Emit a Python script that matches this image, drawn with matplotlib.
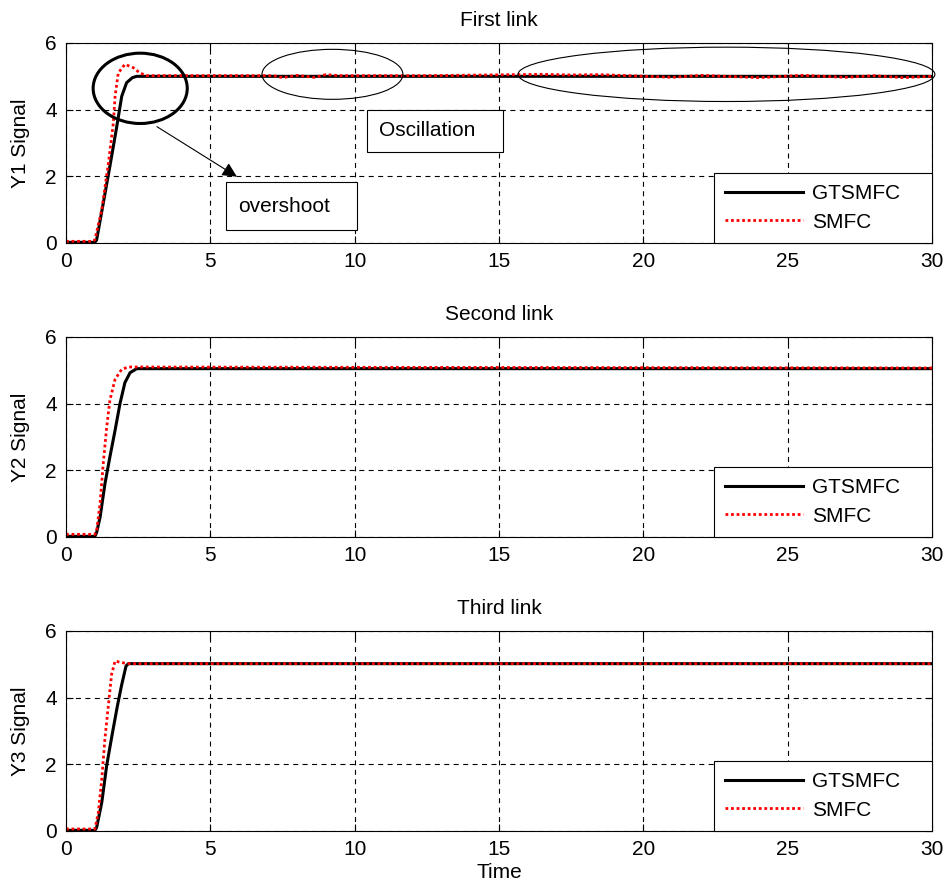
import matplotlib
matplotlib.use('Agg')
import matplotlib.pyplot as plt
from matplotlib.patches import Ellipse, Rectangle

plt.rcParams['font.family'] = ['Liberation Sans', 'DejaVu Sans']
plt.rcParams['font.size'] = 15
FS = 15

# ---- data ----
# First link
t1_gts = [0, 1.0, 1.06, 1.29, 1.52, 1.76, 1.93, 2.1, 2.3, 2.45, 30]
y1_gts = [0.02, 0.02, 0.09, 1.19, 2.3, 3.5, 4.4, 4.81, 4.96, 5.0, 5.0]
t1_smf = [0, 0.95, 1.0, 1.24, 1.47, 1.64, 1.7, 1.81, 2.04, 2.33, 2.56, 2.8,
          7.2, 7.5, 8.0, 8.6, 9.0, 9.5, 12.5, 16.5, 17.5, 18.5, 19.5, 21.0,
          22.0, 24.0, 25.5, 27.0, 28.0, 29.0, 30]
y1_smf = [0.05, 0.05, 0.1, 1.0, 2.4, 3.6, 4.4, 5.1, 5.36, 5.26, 5.1, 5.02,
          5.02, 4.96, 5.03, 4.97, 5.05, 5.02, 5.02, 5.06, 5.04, 5.05, 5.02, 4.97,
          5.03, 4.96, 5.03, 4.97, 5.02, 4.96, 5.0]

# Second link
t2_gts = [0, 1.0, 1.06, 1.18, 1.35, 1.52, 1.7, 1.87, 2.04, 2.22, 2.45, 30]
y2_gts = [0.02, 0.02, 0.13, 0.59, 1.6, 2.4, 3.2, 4.0, 4.63, 4.93, 5.05, 5.05]
t2_smf = [0, 1.0, 1.06, 1.18, 1.29, 1.41, 1.52, 1.7, 1.93, 2.16, 30]
y2_smf = [0.08, 0.08, 0.18, 1.0, 2.2, 3.3, 4.1, 4.73, 5.03, 5.1, 5.07]

# Third link
t3_gts = [0, 1.0, 1.06, 1.24, 1.41, 1.6, 1.78, 1.93, 2.08, 2.16, 30]
y3_gts = [0.02, 0.02, 0.1, 0.86, 1.97, 2.9, 3.75, 4.39, 4.95, 5.02, 5.02]
t3_smf = [0, 1.0, 1.12, 1.24, 1.35, 1.47, 1.58, 1.7, 1.93, 2.2, 30]
y3_smf = [0.06, 0.06, 0.55, 1.57, 2.78, 3.79, 4.7, 5.1, 5.05, 5.02, 5.02]

series = [(t1_gts, y1_gts, t1_smf, y1_smf, 'First link', 'Y1 Signal'),
          (t2_gts, y2_gts, t2_smf, y2_smf, 'Second link', 'Y2 Signal'),
          (t3_gts, y3_gts, t3_smf, y3_smf, 'Third link', 'Y3 Signal')]

xticks = [0, 5, 10, 15, 20, 25, 30]
yticks = [0, 2, 4, 6]

fig = plt.figure(figsize=(9.46, 8.9), dpi=100)
bottoms = [1 - 243 / 890, 1 - 537 / 890, 1 - 831 / 890]
axes = []
for (tg, yg, ts, ys, title, ylab), b in zip(series, bottoms):
    ax = fig.add_axes([66 / 946, b, 866 / 946, 200 / 890])
    ax.plot(tg, yg, color='k', lw=2.2, label='GTSMFC')
    ax.plot(ts, ys, color='#ff0000', lw=2.0, ls=(0, (1, 1)), label='SMFC')
    ax.set_xlim(0, 30)
    ax.set_ylim(0, 6)
    ax.set_xticks(xticks)
    ax.set_yticks(yticks)
    ax.grid(True, color='k', lw=0.8, ls=(0, (4.5, 4)))
    ax.tick_params(direction='in', top=True, right=True, length=5, width=0.8,
                   labelsize=FS, pad=6.5)
    for s in ax.spines.values():
        s.set_linewidth(0.8)
        s.set_color('k')
    ax.set_title(title, fontsize=FS, pad=12)
    ax.set_ylabel(ylab, fontsize=FS, labelpad=11)
    leg = ax.legend(loc='lower left', bbox_to_anchor=(0.748, 0, 0.252, 0.355),
                    mode='expand', fancybox=False, edgecolor='k', framealpha=1,
                    handlelength=3.75, handletextpad=0.4, borderpad=0.55,
                    labelspacing=0.45, borderaxespad=0, fontsize=FS)
    leg.get_frame().set_linewidth(0.8)
    axes.append(ax)

axes[-1].set_xlabel('Time', fontsize=FS, labelpad=3)

# ---- annotations on the first link ----
ax = axes[0]
ax.add_patch(Ellipse((2.57, 4.64), 3.26, 2.11, fill=False, ec='k', lw=2.2, zorder=5))
ax.add_patch(Ellipse((9.23, 5.06), 4.88, 1.5, fill=False, ec='k', lw=0.8, zorder=5))
ax.add_patch(Ellipse((22.88, 5.06), 14.44, 1.63, fill=False, ec='k', lw=0.8,
                     zorder=5, clip_on=False))
ax.add_patch(Rectangle((10.43, 2.74), 4.71, 1.26, fill=True, fc='white', ec='k',
                       lw=0.8, zorder=5))
ax.text(10.83, 3.37, 'Oscillation', fontsize=FS, va='center', ha='left', zorder=6)
ax.add_patch(Rectangle((5.54, 0.39), 4.54, 1.45, fill=True, fc='white', ec='k',
                       lw=0.8, zorder=5))
ax.text(5.96, 1.1, 'overshoot', fontsize=FS, va='center', ha='left', zorder=6)
ax.annotate('', xy=(5.92, 1.99), xytext=(3.15, 3.49),
            arrowprops=dict(arrowstyle='-|>', lw=0.8, color='k', mutation_scale=22,
                            shrinkA=0, shrinkB=0), zorder=6)

fig.savefig('out.png', dpi=100)
